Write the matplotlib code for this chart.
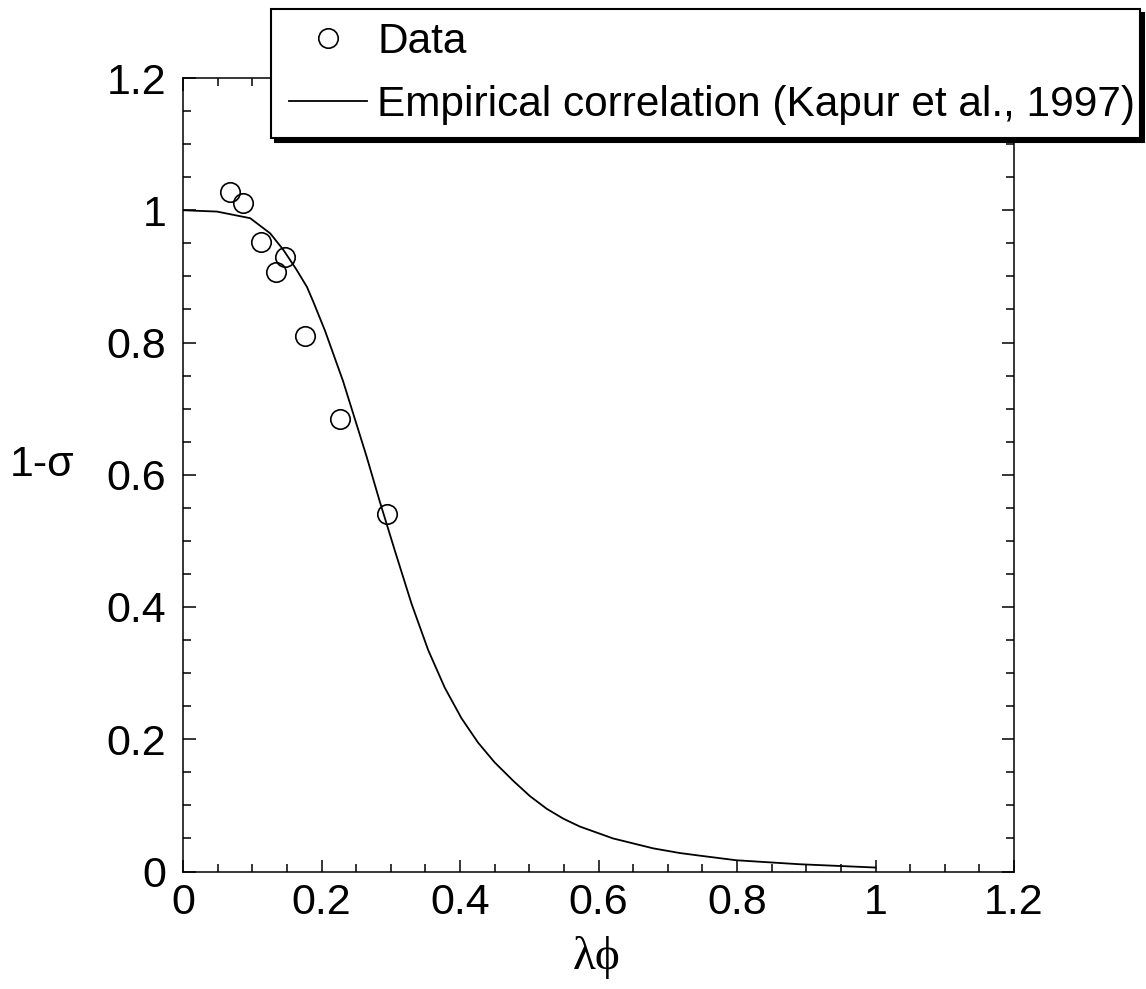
import matplotlib
matplotlib.use("Agg")
import matplotlib.pyplot as plt
from matplotlib.ticker import MultipleLocator, FuncFormatter
from matplotlib.patches import Rectangle

# Data points
data_x = [0.068, 0.087, 0.113, 0.135, 0.148, 0.176, 0.226, 0.295]
data_y = [1.027, 1.011, 0.952, 0.906, 0.930, 0.810, 0.685, 0.541]

# Empirical correlation curve
curve_x = [0.0, 0.049, 0.097, 0.126, 0.145, 0.164, 0.179, 0.188, 0.205, 0.231,
           0.248, 0.265, 0.284, 0.306, 0.330, 0.354, 0.378, 0.402, 0.426, 0.450,
           0.477, 0.501, 0.525, 0.549, 0.573, 0.621, 0.679, 0.717, 0.746, 0.799,
           0.890, 1.0]
curve_y = [1.0, 0.998, 0.988, 0.965, 0.940, 0.910, 0.884, 0.862, 0.818, 0.742,
           0.685, 0.628, 0.560, 0.485, 0.405, 0.335, 0.278, 0.232, 0.195, 0.165,
           0.137, 0.114, 0.095, 0.080, 0.068, 0.050, 0.035, 0.028, 0.024, 0.017,
           0.011, 0.006]

x_ticks = [0, 0.2, 0.4, 0.6, 0.8, 1, 1.2]
y_ticks = [0, 0.2, 0.4, 0.6, 0.8, 1, 1.2]

plt.rcParams['font.family'] = ['Liberation Sans', 'DejaVu Sans']

W, H = 1146, 989
fig = plt.figure(figsize=(W / 100, H / 100), dpi=100)
ax = fig.add_axes([183 / W, 1 - 871.5 / H, (1014 - 183) / W, (871.5 - 78) / H])

ax.plot(data_x, data_y, linestyle='none', marker='o', ms=14, mfc='none', mec='black', mew=1.2,
        label='Data')
ax.plot(curve_x, curve_y, color='black', lw=1.3, label='Empirical correlation (Kapur et al., 1997)')

ax.set_xlim(0, 1.2)
ax.set_ylim(0, 1.2)
ax.set_xticks(x_ticks)
ax.set_yticks(y_ticks)
fmt = FuncFormatter(lambda v, p: ('%g' % round(v, 2)))
ax.xaxis.set_major_formatter(fmt)
ax.yaxis.set_major_formatter(fmt)
ax.xaxis.set_minor_locator(MultipleLocator(0.05))
ax.yaxis.set_minor_locator(MultipleLocator(0.05))
ax.tick_params(which='both', direction='in', top=True, right=True, width=1.1, colors='black')
ax.tick_params(which='major', length=9, labelsize=31)
ax.tick_params(which='minor', length=5.5)
ax.tick_params(axis='y', which='major', pad=12)
ax.tick_params(axis='x', which='major', pad=8)
for s in ax.spines.values():
    s.set_linewidth(1.1)

ax.set_ylabel('1-σ', fontsize=31, rotation=0, ha='center', va='center')
ax.yaxis.set_label_coords(-0.17, 0.512)
ax.set_xlabel('λϕ', fontsize=34, family=['Liberation Serif', 'DejaVu Serif'], va='center')
ax.xaxis.set_label_coords(0.498, -0.108)

# legend frame with hard black shadow
bx0, bx1, by0, by1 = 271, 1140, 9, 138
off = 4
shadow = Rectangle(((bx0 + off) / W, 1 - (by1 + off) / H), (bx1 - bx0) / W, (by1 - by0) / H,
                   transform=fig.transFigure, facecolor='black', edgecolor='black', lw=1.5, zorder=3)
frame = Rectangle((bx0 / W, 1 - by1 / H), (bx1 - bx0) / W, (by1 - by0) / H,
                  transform=fig.transFigure, facecolor='white', edgecolor='black', lw=1.5, zorder=3.5)
fig.add_artist(shadow)
fig.add_artist(frame)

h, l = ax.get_legend_handles_labels()
leg = fig.legend(h, l, loc='upper left', bbox_to_anchor=(289 / W, 1 - 22 / H),
                 bbox_transform=fig.transFigure, fontsize=30.5, frameon=False,
                 handlelength=1.84, handletextpad=0.24, borderpad=0, borderaxespad=0,
                 labelspacing=0.55)
leg.set_zorder(5)

fig.savefig('out.png', dpi=100)
